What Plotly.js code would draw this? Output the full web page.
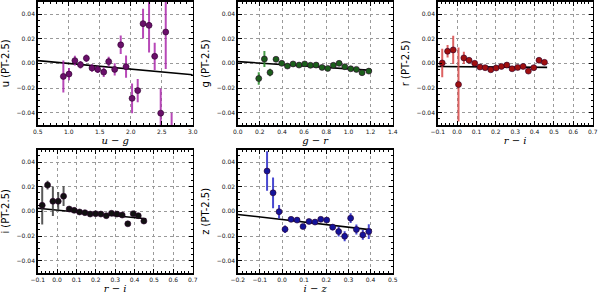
<!DOCTYPE html>
<html><head><meta charset="utf-8">
<script src="https://cdn.plot.ly/plotly-3.0.1.min.js"></script>
<style>body{margin:0;padding:0;background:#fff}#c{width:600px;height:296px}</style>
</head><body><div id="c"></div>
<script>
// u panel
const uX = [0.914,1.005,1.10,1.19,1.285,1.376,1.468,1.565,1.645,1.742,1.839,1.925,2.022,2.113,2.199,2.296,2.387,2.484,2.565,2.66];
const uY = [-0.0106,-0.0087,0.0022,-0.0011,0.0041,-0.0038,-0.0049,-0.0071,0.0014,-0.0049,0.015,-0.0027,-0.0284,-0.0221,0.0322,0.0308,0.0057,-0.0404,0.0254,-0.058];
const uE = [0.013,0.005,0.004,0.003,0.003,0.003,0.003,0.004,0.004,0.005,0.0075,0.009,0.012,0.0095,0.012,0.022,0.011,0.02,0.03,0.018];
const uFitX = [0.5,3.0], uFitY = [0.0022,-0.0093];
// g panel
const gX = [0.19,0.241,0.292,0.346,0.398,0.449,0.5,0.554,0.605,0.657,0.708,0.762,0.813,0.864,0.916,0.967,1.021,1.072,1.123,1.184];
const gY = [-0.0123,0.0035,-0.0074,0.0033,0.0,-0.0022,-0.0005,-0.0014,-0.0005,-0.0016,-0.0014,-0.0033,-0.0041,-0.0016,0.0,-0.0027,-0.0044,-0.0049,-0.0076,-0.0063];
const gE = [0.005,0.0065,0.003,0.0015,0.0015,0.0015,0.001,0.001,0.001,0.001,0.001,0.0015,0.0015,0.0015,0.0015,0.0015,0.0015,0.0015,0.002,0.002];
const gFitX = [0.0,1.21], gFitY = [0.0014,-0.0057];
// r panel
const rX = [-0.0766,-0.049,-0.020,0.0074,0.035,0.062,0.091,0.118,0.145,0.174,0.2015,0.229,0.257,0.284,0.313,0.341,0.368,0.396,0.423,0.451];
const rY = [0.0003,0.0098,0.0109,-0.0172,0.0044,0.0025,0.0,-0.003,-0.0035,-0.0052,-0.0038,-0.0025,-0.0014,-0.0044,-0.0033,-0.0025,-0.0063,-0.0035,0.0025,0.0008];
const rE = [0.0115,0.005,0.0115,0.03,0.005,0.002,0.0015,0.0015,0.0015,0.0015,0.0015,0.0015,0.0015,0.0015,0.0015,0.0015,0.002,0.0015,0.002,0.0015];
const rFitX = [-0.1,0.465], rFitY = [-0.0025,-0.0033];
// i panel
const iX = [-0.0766,-0.049,-0.0215,0.006,0.0336,0.0625,0.0886,0.116,0.1437,0.171,0.199,0.226,0.254,0.281,0.309,0.336,0.365,0.393,0.419,0.448];
const iY = [0.0049,0.0213,0.0082,0.0082,0.0123,0.0019,0.0008,-0.0005,-0.0011,-0.0022,-0.0019,-0.0022,-0.0035,-0.0016,-0.0022,-0.003,-0.0101,-0.0019,-0.0035,-0.0079];
const iE = [0.0155,0.0035,0.012,0.0075,0.008,0.0015,0.0015,0.0015,0.0015,0.0015,0.0015,0.0015,0.0015,0.0015,0.0015,0.0015,0.0015,0.0015,0.002,0.002];
const iFitX = [-0.1,0.46], iFitY = [0.0025,-0.006];
// z panel
const zX = [-0.0675,-0.0404,-0.0133,0.0138,0.0409,0.068,0.095,0.122,0.149,0.175,0.202,0.229,0.256,0.283,0.31,0.336,0.365,0.392];
const zY = [0.0327,0.015,-0.0003,-0.0145,-0.0065,-0.0071,-0.0123,-0.0082,-0.0087,-0.0065,-0.0071,-0.0128,-0.0164,-0.0202,-0.0055,-0.0147,-0.0191,-0.0164];
const zE = [0.016,0.0125,0.0055,0.003,0.0015,0.0015,0.002,0.0015,0.0015,0.0015,0.0015,0.0025,0.004,0.004,0.004,0.004,0.004,0.006];
const zFitX = [-0.2,0.405], zFitY = [-0.0025,-0.015];

const panels = [
  {x:uX,y:uY,e:uE,fx:uFitX,fy:uFitY,mc:'#6a0f6a',ec:'rgba(170,40,170,0.85)',ytitle:'u (PT-2.5)',xtitle:'u − g',xr:[0.5,3.0],dt:0.5,mdt:0.1,xd:[0.0628,0.3212],yd:[0.5777,0.9943],tf:'.1f'},
  {x:gX,y:gY,e:gE,fx:gFitX,fy:gFitY,mc:'#1b5e1b',ec:'rgba(40,140,40,0.85)',ytitle:'g (PT-2.5)',xtitle:'g − r',xr:[0.0,1.4],dt:0.2,mdt:0.04,xd:[0.3962,0.6545],yd:[0.5777,0.9943],tf:'.1f'},
  {x:rX,y:rY,e:rE,fx:rFitX,fy:rFitY,mc:'#a01010',ec:'rgba(215,70,70,0.85)',ytitle:'r (PT-2.5)',xtitle:'r − i',xr:[-0.1,0.7],dt:0.1,mdt:0.02,xd:[0.7295,0.9878],yd:[0.5777,0.9943],tf:'.1f'},
  {x:iX,y:iY,e:iE,fx:iFitX,fy:iFitY,mc:'#111111',ec:'rgba(60,60,60,0.85)',ytitle:'i (PT-2.5)',xtitle:'r − i',xr:[-0.1,0.7],dt:0.1,mdt:0.02,xd:[0.0628,0.3212],yd:[0.0777,0.4943],tf:'.1f'},
  {x:zX,y:zY,e:zE,fx:zFitX,fy:zFitY,mc:'#14149a',ec:'rgba(40,40,200,0.85)',ytitle:'z (PT-2.5)',xtitle:'i − z',xr:[-0.2,0.5],dt:0.1,mdt:0.02,xd:[0.3962,0.6545],yd:[0.0777,0.4943],tf:'.1f'}
];

const data = [];
const layout = {
  width:600,height:296,margin:{l:0,r:0,t:0,b:0},
  paper_bgcolor:'#fff',plot_bgcolor:'#fff',showlegend:false,
  font:{family:'DejaVu Sans, sans-serif',color:'#000'}
};
panels.forEach((p,k)=>{
  const n = k===0?'':String(k+1);
  const xa='x'+n, ya='y'+n;
  data.push({x:p.fx,y:p.fy,xaxis:xa,yaxis:ya,mode:'lines',line:{color:'#000',width:1.6},hoverinfo:'skip',cliponaxis:true});
  data.push({x:p.x,y:p.y,xaxis:xa,yaxis:ya,mode:'markers',
    marker:{size:6,color:p.mc,line:{color:'#2a002a',width:0.6}},
    error_y:{type:'data',array:p.e,visible:true,color:p.ec,thickness:2,width:0},cliponaxis:true});
  const common = {showline:true,mirror:'ticks',linecolor:'#000',linewidth:1.5,ticks:'inside',ticklen:4,tickwidth:1,tickcolor:'#000',
    showgrid:true,gridcolor:'#9a9a9a',griddash:'dot',gridwidth:1,zeroline:false,tickfont:{size:6,color:'#111'}};
  layout['xaxis'+n] = Object.assign({},common,{domain:p.xd,anchor:ya,range:p.xr,dtick:p.dt,tick0:p.xr[0],tickformat:p.tf,
    minor:{ticks:'inside',ticklen:2,tickcolor:'#000',dtick:p.mdt,showgrid:false},
    title:{text:p.xtitle,font:{size:10,family:'DejaVu Serif, serif',style:'italic'},standoff:3}});
  layout['yaxis'+n] = Object.assign({},common,{domain:p.yd,anchor:xa,range:[-0.05,0.05],dtick:0.02,tick0:-0.04,tickformat:'.2f',
    minor:{ticks:'inside',ticklen:2,tickcolor:'#000',dtick:0.005,showgrid:false},
    title:{text:p.ytitle,font:{size:10},standoff:5}});
});
Plotly.newPlot('c',data,layout,{staticPlot:true});
</script></body></html>
